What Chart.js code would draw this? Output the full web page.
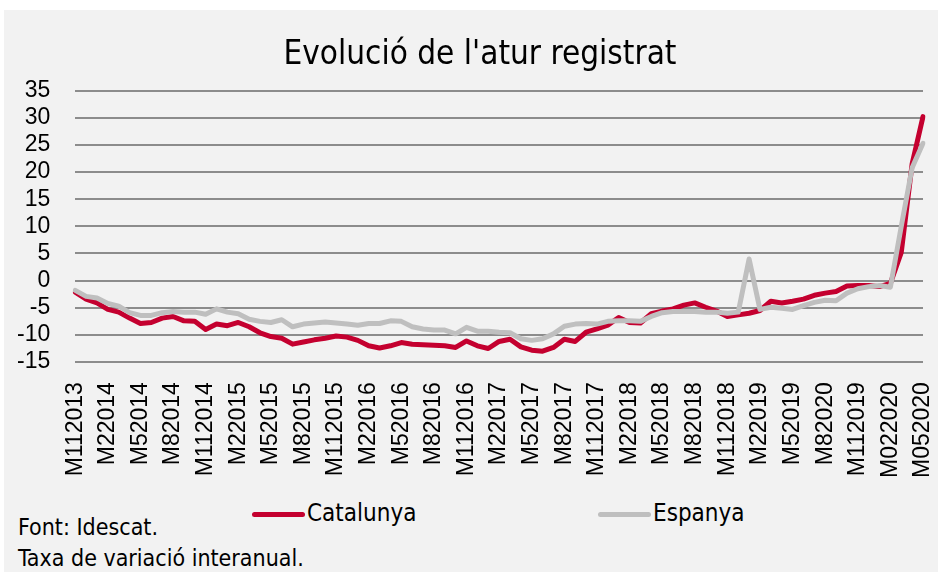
<!DOCTYPE html>
<html>
<head>
<meta charset="utf-8">
<script src="https://cdn.jsdelivr.net/npm/chart.js@4"></script>
<style>
  body { margin: 0; background: #fff; width: 938px; height: 572px; overflow: hidden; }
  #panel { position: absolute; left: 4px; top: 10px; width: 934px; height: 562px; background: #f2f2f2; overflow: hidden; }
  #chart { position: absolute; left: 0; top: 0; }
  .narrow { font-family: "Liberation Sans Narrow", "DejaVu Sans Condensed", sans-serif; color: #000; }
  #legend { position: absolute; top: 488px; left: 0; width: 934px; height: 30px; }
  .item { position: absolute; top: 0; font-size: 24px; line-height: 30px; white-space: nowrap; }
  .item .swatch { display: inline-block; width: 53px; height: 5px; border-radius: 3px; vertical-align: middle; margin-right: 2px; }
  .note { position: absolute; left: 14px; font-size: 23px; line-height: 28px; white-space: nowrap; }
</style>
</head>
<body>
<div id="panel">
  <canvas id="chart" width="934" height="480"></canvas>
  <div id="legend" class="narrow"></div>
  <div class="note narrow" style="top: 503px;">Font: Idescat.</div>
  <div class="note narrow" style="top: 534px;">Taxa de variació interanual.</div>
</div>
<script>
// mesos (nov 2013 - maig 2020), etiquetes com a l'original
const months = [
  "M112013","M122013","M12014","M22014","M32014","M42014","M52014","M62014","M72014","M82014","M92014","M102014",
  "M112014","M122014","M12015","M22015","M32015","M42015","M52015","M62015","M72015","M82015","M92015","M102015",
  "M112015","M122015","M12016","M22016","M32016","M42016","M52016","M62016","M72016","M82016","M92016","M102016",
  "M112016","M122016","M12017","M22017","M32017","M42017","M52017","M62017","M72017","M82017","M92017","M102017",
  "M112017","M122017","M12018","M22018","M32018","M42018","M52018","M62018","M72018","M82018","M92018","M102018",
  "M112018","M122018","M12019","M22019","M32019","M42019","M52019","M62019","M72019","M82020","M92019","M102019",
  "M112019","M122019","M012020","M022020","M032020","M042020","M052020"
];

const catalunya = [
  -2.1, -3.4, -4.1, -5.3, -5.8, -6.9, -7.9, -7.7, -6.9, -6.6, -7.4, -7.5,
  -9.0, -8.0, -8.3, -7.7, -8.5, -9.6, -10.3, -10.6, -11.7, -11.3, -10.9, -10.6,
  -10.2, -10.4, -11.0, -12.0, -12.4, -12.0, -11.4, -11.7, -11.8, -11.9, -12.0, -12.3,
  -11.1, -12.0, -12.5, -11.2, -10.8, -12.2, -12.8, -13.0, -12.3, -10.8, -11.2, -9.5,
  -8.9, -8.2, -6.8, -7.7, -7.8, -6.1, -5.6, -5.2, -4.5, -4.1, -4.9, -5.6,
  -6.6, -6.3, -6.0, -5.5, -3.8, -4.1, -3.8, -3.4, -2.7, -2.3, -2.0, -1.0,
  -0.9, -0.9, -1.1, -0.5, 5.2, 21.5, 30.2
];

const espanya = [
  -1.8, -2.9, -3.2, -4.2, -4.7, -5.9, -6.4, -6.4, -5.9, -5.7, -5.8, -5.8,
  -6.2, -5.2, -5.8, -6.1, -7.1, -7.5, -7.7, -7.2, -8.5, -8.0, -7.8, -7.6,
  -7.8, -8.0, -8.2, -7.9, -7.9, -7.4, -7.5, -8.5, -8.9, -9.1, -9.1, -9.8,
  -8.6, -9.3, -9.3, -9.5, -9.6, -10.7, -11.0, -10.7, -9.8, -8.4, -8.0, -7.9,
  -8.0, -7.5, -7.4, -7.4, -7.5, -6.6, -5.9, -5.7, -5.7, -5.7, -5.8, -5.8,
  -6.0, -5.8, 4.0, -5.3, -4.9, -5.1, -5.3, -4.6, -4.0, -3.6, -3.7, -2.3,
  -1.5, -1.1, -0.9, -1.2, 10.0, 20.8, 25.3
];

const seriesNames = ["Catalunya", "Espanya"];
const seriesColors = ["#c4002f", "#bfbfbf"];

const chart = new Chart(document.getElementById("chart"), {
    type: 'line',
    data: {
        labels: months,
        datasets: [{
            label: seriesNames[0],
            data: catalunya,
            borderColor: seriesColors[0],
            backgroundColor: seriesColors[0],
            borderWidth: 5,
            borderJoinStyle: 'round',
            borderCapStyle: 'round',
            pointRadius: 0,
            order: 1
        }, {
            label: seriesNames[1],
            data: espanya,
            borderColor: seriesColors[1],
            backgroundColor: seriesColors[1],
            borderWidth: 5,
            borderJoinStyle: 'round',
            borderCapStyle: 'round',
            pointRadius: 0,
            order: 0
        }]
    },
    options: {
        responsive: false,
        animation: false,
        layout: { padding: { left: -12, right: -30 } },
        plugins: {
            legend: { display: false },
            tooltip: { enabled: false },
            title: {
                display: true,
                text: "Evolució de l'atur registrat",
                color: '#000',
                font: { family: '"Liberation Sans Narrow", "DejaVu Sans Condensed", sans-serif', size: 33, weight: 'normal' },
                padding: { top: 26, bottom: 15 }
            }
        },
        scales: {
            x: {
                grid: { display: false },
                border: { display: false },
                // the rotated labels reserve too much room on the right
                afterFit: function (scale) {
                    scale.paddingRight = 15;
                },
                ticks: {
                    autoSkip: false,
                    maxRotation: 90,
                    minRotation: 90,
                    padding: 12,
                    color: '#000',
                    font: { family: '"Liberation Sans", Arial, sans-serif', size: 23 },
                    callback: function (val, index) {
                        return index % 3 === 0 ? months[index] : '';
                    }
                }
            },
            y: {
                min: -15,
                max: 35,
                border: { display: false },
                grid: { color: '#8c8c8c', lineWidth: 2, drawTicks: false },
                ticks: {
                    stepSize: 5,
                    autoSkip: false,
                    padding: 25,
                    color: '#000',
                    font: { family: '"Liberation Sans", Arial, sans-serif', size: 23 }
                }
            }
        }
    }
});

// llegenda a sota, com a l'original
const legendPos = [248, 594];
const legend = document.getElementById("legend");
seriesNames.forEach(function (name, i) {
    const item = document.createElement("div");
    item.className = "item";
    item.style.left = legendPos[i] + "px";
    item.innerHTML = '<span class="swatch" style="background:' + seriesColors[i] + '"></span>' + name;
    legend.appendChild(item);
});
</script>
</body>
</html>
